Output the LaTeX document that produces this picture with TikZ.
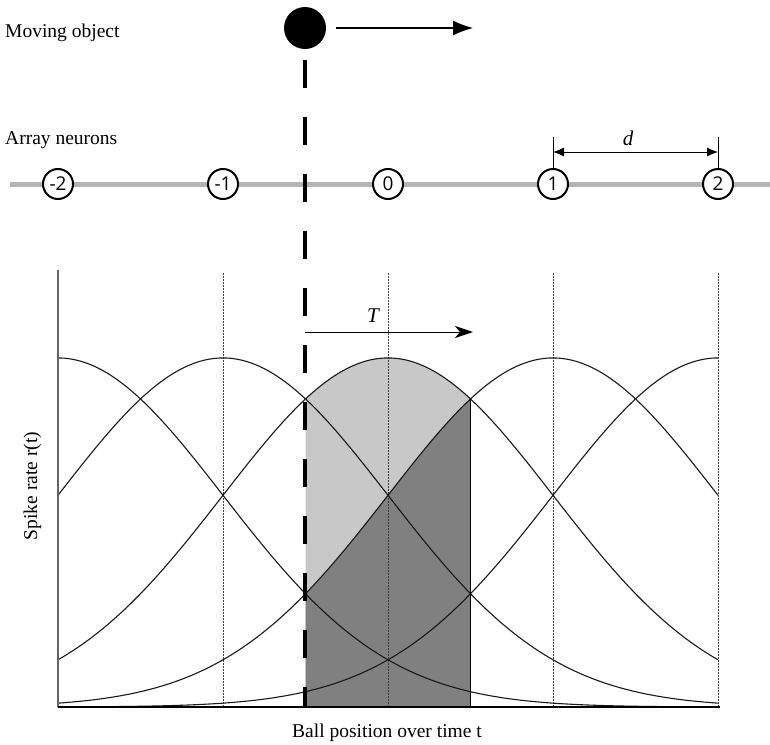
\documentclass[tikz,border=0pt]{standalone}
\usepackage{fontspec}
\setmainfont{Liberation Serif}
\newfontfamily\numfont{Open Sans}
\usetikzlibrary{arrows.meta}
\definecolor{lightfill}{RGB}{200,200,200}
\definecolor{darkfill}{RGB}{128,128,128}
\definecolor{railgray}{RGB}{180,180,180}
\definecolor{axisgray}{RGB}{100,100,100}
\begin{document}
\begin{tikzpicture}[x=1pt,y=-1pt,
  lbl/.style={font=\fontsize{19.5}{22}\selectfont, inner sep=0pt},
  itl/.style={font=\fontsize{21}{23}\selectfont\itshape, inner sep=0pt},
  neuron/.style={circle, draw=black, line width=2pt, fill=white, minimum size=30pt, inner sep=0pt, font=\numfont\fontsize{19}{20}\selectfont},
  tuning/.style={line width=1.1pt, black!90},
  guide/.style={dash pattern=on 1.5pt off 1.5pt, line width=0.9pt, black!75},
  ballline/.style={line width=4pt, dash pattern=on 28pt off 29pt},
]
\useasboundingbox (0,0) rectangle (770,744);

% shaded regions
\fill[lightfill] (305.5,707) -- plot[domain=305.5:470.5, samples=60] (\x, {707-349*exp(-0.5*((\x-388)/165)*((\x-388)/165))}) -- (470.5,707) -- cycle;
\fill[darkfill] (305.5,707) -- plot[domain=305.5:470.5, samples=60] (\x, {707-349*exp(-0.5*((\x-553)/165)*((\x-553)/165))}) -- (470.5,707) -- cycle;

% guides
\foreach \c in {223,388,553,718} \draw[guide] (\c,273) -- (\c,707);

% tuning curves
\foreach \c in {58,223,388,553,718}
  \draw[tuning] plot[domain=58:718, samples=200, smooth] (\x, {707-349*exp(-0.5*((\x-\c)/165)*((\x-\c)/165))});

% right border of shaded area
\coordinate (shadetop) at (470.5,399);
\coordinate (shadebot) at (470.5,707);
\draw[line width=1pt] (shadetop) -- (shadebot);

% axes
\coordinate (origin) at (58,707);
\coordinate (ytop) at (58,270);
\coordinate (xend) at (720,707);
\draw[axisgray, line width=1.2pt] (origin) -- (ytop);
\draw[black, line width=1.6pt] (origin) -- (xend);

% rail and neurons
\coordinate (railL) at (10,184);
\coordinate (railR) at (770,184);
\draw[railgray, line width=5pt] (railL) -- (railR);
\node[neuron] (nm2) at (58,184) {-2};
\node[neuron] (nm1) at (223,184) {-1};
\node[neuron] (n0) at (388,184) {0};
\node[neuron] (n1) at (553,184) {1};
\node[neuron] (n2) at (718,184) {2};

% distance d
\coordinate (d1top) at (553,137);
\coordinate (d2top) at (718,137);
\draw[line width=0.8pt] (n1.north) -- (d1top);
\draw[line width=0.8pt] (n2.north) -- (d2top);
\coordinate (dA) at (553,152);
\coordinate (dB) at (718,152);
\draw[line width=0.8pt, {Latex[length=11pt,width=9pt]}-{Latex[length=11pt,width=9pt]}] (dA) -- (dB);
\node[itl, anchor=base] (dlab) at (628,145) {d};

% moving ball
\node[circle, fill=black, minimum size=42pt, inner sep=0pt] (ball) at (305,28) {};
\coordinate (motionend) at (473,28);
\draw[line width=1.2pt, -{Latex[length=20pt,width=15pt]}] ([xshift=10pt]ball.east) -- (motionend);
\coordinate (ballfoot) at (305,707);
\draw[ballline] ([yshift=-11pt]ball.south) -- (ballfoot);

% T arrow
\coordinate (Tstart) at (305,332);
\coordinate (Tend) at (473,332);
\draw[line width=1pt, -{Stealth[length=18pt,width=12pt,inset=5pt]}] (Tstart) -- (Tend);
\node[itl, anchor=base] (Tlab) at (373,322) {T};

% labels
\node[lbl, anchor=base west] (mo) at (5,37) {Moving object};
\node[lbl, anchor=base west] (an) at (5,144) {Array neurons};
\node[lbl, anchor=base, rotate=90] (ylab) at (37,486) {Spike rate r(t)};
\node[lbl, anchor=base west] (xlab) at (292,737) {Ball position over time t};
\end{tikzpicture}
\end{document}
